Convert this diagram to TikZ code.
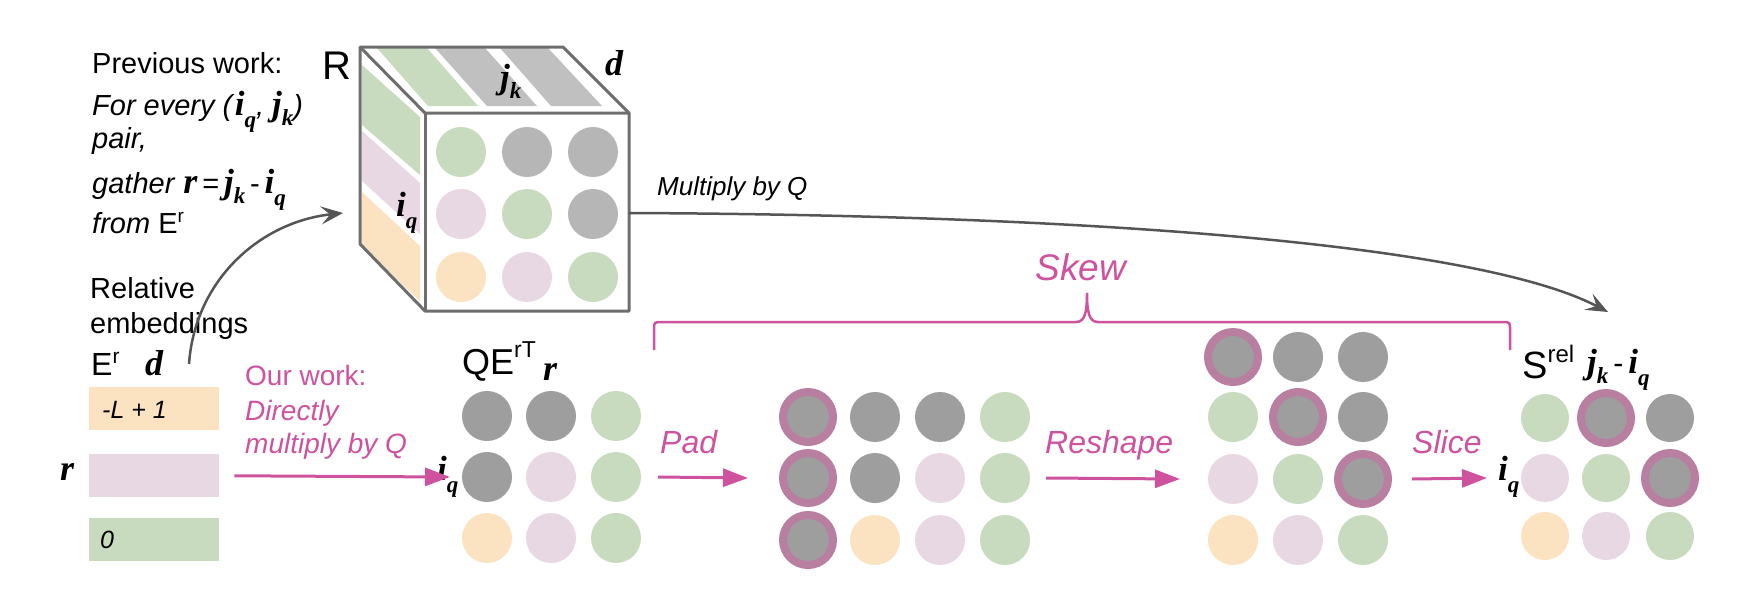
\documentclass[tikz,border=0pt]{standalone}
\usepackage{fontspec}
\setmainfont{Liberation Sans}
\newfontfamily\serifmath{Liberation Serif}
\usetikzlibrary{arrows.meta}
\definecolor{pk}{RGB}{206,82,158}
\definecolor{gn}{RGB}{201,219,191}
\definecolor{pu}{RGB}{232,216,227}
\definecolor{og}{RGB}{251,226,192}
\definecolor{gy}{RGB}{158,158,158}
\definecolor{cgy}{RGB}{182,182,182}
\definecolor{sgy}{RGB}{192,192,192}
\definecolor{rg}{RGB}{184,127,160}
\definecolor{ln}{RGB}{110,110,110}
\definecolor{ar}{RGB}{85,85,85}
\newcommand{\bi}[1]{{\serifmath\bfseries\itshape #1}}
\newcommand{\iq}{\bi{\fontsize{35}{35}\selectfont i}\raisebox{-12pt}{\bi{\fontsize{23}{23}\selectfont q}}}
\newcommand{\jk}{\bi{\fontsize{35}{35}\selectfont j}\raisebox{-10pt}{\bi{\fontsize{23}{23}\selectfont k}}}
\newcommand{\fs}[1]{\fontsize{#1}{#1}\selectfont}
\tikzset{
  dot/.style={circle, minimum size=50pt, inner sep=0pt, draw=none},
  ring/.style={circle, minimum size=50pt, inner sep=0pt, fill=gy, draw=rg, line width=8pt},
  lbl/.style={inner sep=0pt, anchor=base west},
  pinktxt/.style={lbl, text=pk},
  parr/.style={draw=pk, line width=3pt, -{Triangle[length=25pt,width=18pt]}},
  garr/.style={draw=ar, line width=2.5pt, -{Stealth[length=22pt,width=18pt,inset=9pt]}},
  ebox/.style={draw=none, minimum width=130pt, minimum height=43pt, anchor=north west, inner sep=0pt},
  cubeline/.style={draw=ln, line width=3pt, line join=round}
}
\begin{document}
\begin{tikzpicture}[x=1pt,y=-1pt]
\useasboundingbox (0,0) rectangle (1738,598);
% ---- left text block
\node[lbl] (t1) at (92,73) {\fs{29}Previous work:};
\node[lbl] (t2) at (92,115) {\fs{29}\textit{For every (}\iq\textit{, }\jk\textit{)}};
\node[lbl] (t3) at (92,148) {\fs{29}\textit{pair,}};
\node[lbl] (t4) at (92,193) {\fs{29}\textit{gather }\bi{\fs{36}r}\,=\,\jk\,-\,\iq};
\node[lbl] (t5) at (92,233) {\fs{29}\textit{from }E\raisebox{11pt}{\fs{19}r}};
\node[lbl] (t6) at (90,298) {\fs{29}Relative};
\node[lbl] (t7) at (90,333) {\fs{29}embeddings};
\node[lbl] (t8) at (91,375) {\fs{32}E\raisebox{12pt}{\fs{21}r}};
\node[lbl] (t9) at (145,375) {\bi{\fs{36}d}};
% ---- embedding boxes
\node[ebox, fill=og] (eb1) at (89,387) {};
\node[ebox, fill=pu] (eb2) at (89,454) {};
\node[ebox, fill=gn] (eb3) at (89,518) {};
\node[lbl] (eb1t) at (102,418) {\fs{25}\textit{-L + 1}};
\node[lbl] (eb3t) at (100,548) {\fs{25}\textit{0}};
\node[lbl] (rlab) at (60,480) {\bi{\fs{36}r}};
% ---- cube
\fill[gn] (377,48) -- (427,48) -- (478,106) -- (428,106) -- cycle;
\fill[sgy] (435,48) -- (485,48) -- (537,106) -- (487,106) -- cycle;
\fill[sgy] (500,48) -- (548,48) -- (602,106) -- (551,106) -- cycle;
\fill[gn] (362,65) -- (420,117) -- (420,175) -- (362,125) -- cycle;
\fill[pu] (362,131) -- (420,183) -- (420,234) -- (362,181) -- cycle;
\fill[og] (362,192) -- (420,246) -- (420,301) -- (362,246) -- cycle;
\draw[cubeline] (360,47) -- (563,47) -- (629,113) -- (629,311) -- (425,311) -- (360,244) -- cycle;
\draw[cubeline] (360,47) -- (425,113) -- (629,113);
\draw[cubeline] (425,113) -- (425,311);
\foreach \n/\x/\y/\col in {c11/461/152/gn, c12/527/152/cgy, c13/593/152/cgy,
  c21/461/214/pu, c22/527/214/gn, c23/593/214/cgy,
  c31/461/277/og, c32/527/277/pu, c33/593/277/gn}
  \node[dot, fill=\col] (\n) at (\x,\y) {};
\node[lbl] (Rlab) at (322,79) {\fs{40}R};
\node[lbl] (dlab) at (605,75) {\bi{\fs{36}d}};
\node[lbl] (jkc) at (500,88) {\jk};
\node[lbl] (iqc) at (396,216) {\iq};
% ---- arrow embeddings -> cube
\coordinate (ea1) at (189,364);
\coordinate (ea2) at (343,213);
\draw[garr] (ea1) .. controls (195,280) and (260,222) .. (ea2);
% ---- long arrow multiply by Q
\coordinate (ma1) at (629,213);
\coordinate (ma2) at (1608,312);
\draw[garr] (ma1) .. controls (1100,215) and (1480,245) .. (ma2);
\node[lbl] (mult) at (657,195) {\fs{26}\textit{Multiply by Q}};
% ---- Our work
\node[pinktxt] (ow1) at (245,385) {\fs{28}Our work:};
\node[pinktxt] (ow2) at (245,420) {\fs{28}\textit{Directly}};
\node[pinktxt] (ow3) at (245,453) {\fs{28}\textit{multiply by Q}};
% ---- QE matrix
\foreach \n/\x/\y/\col in {q11/487/416/gy, q12/551/416/gy, q13/616/416/gn,
  q21/487/477/gy, q22/551/477/pu, q23/616/477/gn,
  q31/487/538/og, q32/551/538/pu, q33/616/538/gn}
  \node[dot, fill=\col] (\n) at (\x,\y) {};
\node[lbl] (qlab) at (462,374) {\fs{36}QE\raisebox{17pt}{\fs{23}rT}};
\node[lbl] (qr) at (543,380) {\bi{\fs{36}r}};
\node[lbl] (iq1) at (437,480) {\iq};
\draw[parr, shorten <=15pt] (eb2.east) -- ([xshift=-37pt]q21.center);
% ---- padded matrix
\foreach \n/\x/\y/\col in {p12/875/417/gy, p13/940/417/gy, p14/1005/417/gn,
  p22/875/478/gy, p23/940/478/pu, p24/1005/478/gn,
  p32/875/540/og, p33/940/540/pu, p34/1005/540/gn}
  \node[dot, fill=\col] (\n) at (\x,\y) {};
\foreach \n/\x/\y in {p11/808/417, p21/808/478, p31/808/540}
  \node[ring] (\n) at (\x,\y) {};
\draw[parr] ([xshift=42pt]q23.center) -- ([xshift=-60pt]p21.center);
\node[pinktxt] (padl) at (660,453) {\fs{32}\textit{Pad}};
% ---- reshaped matrix
\foreach \n/\x/\y/\col in {r12/1298/357/gy, r13/1363/357/gy,
  r21/1233/417/gn, r23/1363/417/gy,
  r31/1233/479/pu, r32/1298/479/gn,
  r41/1233/540/og, r42/1298/540/pu, r43/1363/540/gn}
  \node[dot, fill=\col] (\n) at (\x,\y) {};
\foreach \n/\x/\y in {r11/1233/357, r22/1298/417, r33/1363/479}
  \node[ring] (\n) at (\x,\y) {};
\draw[parr] ([xshift=41pt]p24.center) -- ([xshift=-53pt]r31.center);
\node[pinktxt] (reshl) at (1045,453) {\fs{32}\textit{Reshape}};
% ---- skew brace
\draw[pk, line width=2.5pt] (654,350) -- (654,330) .. controls (654,322) .. (662,322)
  -- (1076,322) .. controls (1085,322) and (1087,312) .. (1087,293)
  .. controls (1087,312) and (1089,322) .. (1098,322)
  -- (1502,322) .. controls (1510,322) .. (1510,330) -- (1510,350);
\node[text=pk, inner sep=0pt, anchor=base] (skew) at (1082,280) {\fs{37}\textit{Skew}};
% ---- S rel matrix
\foreach \n/\x/\y/\col in {s11/1545/418/gn, s13/1670/418/gy,
  s21/1545/478/pu, s22/1606/478/gn,
  s31/1545/536/og, s32/1606/536/pu, s33/1670/536/gn}
  \node[dot, fill=\col, minimum size=48pt] (\n) at (\x,\y) {};
\foreach \n/\x/\y in {s12/1606/418, s23/1670/478}
  \node[ring] (\n) at (\x,\y) {};
\draw[parr] ([xshift=49pt]r33.center) -- ([xshift=-58pt]s21.center);
\node[pinktxt] (slicel) at (1412,453) {\fs{32}\textit{Slice}};
\node[lbl] (iq2) at (1498,480) {\iq};
\node[lbl] (slab) at (1522,378) {\fs{38}S\raisebox{16pt}{\fs{24}rel}};
\node[lbl] (jkiq) at (1587,373) {\fs{30}\jk\,-\,\iq};
\end{tikzpicture}
\end{document}
